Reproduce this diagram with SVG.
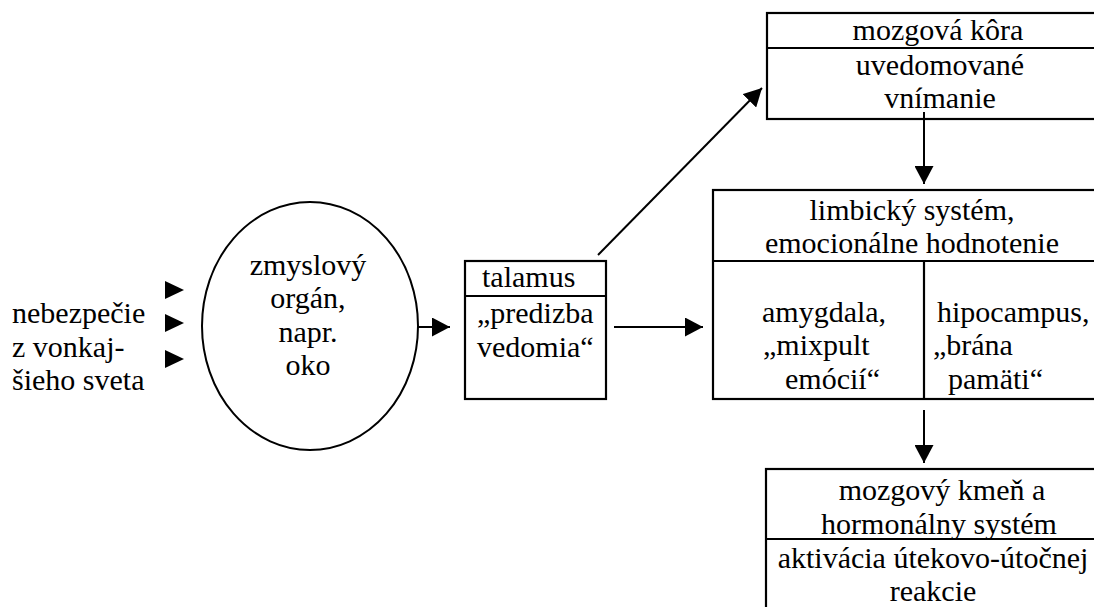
<svg xmlns="http://www.w3.org/2000/svg" width="1094" height="607" viewBox="0 0 1094 607">
<style>
text{font-family:"Liberation Serif","Times New Roman",serif;font-size:30px;fill:#000}
.m{text-anchor:middle}
.box{fill:#fff;stroke:#000;stroke-width:2.2}
.div{stroke:#000;stroke-width:2.2}
.con{stroke:#000;stroke-width:2;fill:none}
.tri{fill:#000}
</style>
<defs>
<marker id="ah" markerUnits="userSpaceOnUse" markerWidth="19" markerHeight="19" refX="18" refY="9.5" orient="auto">
<path d="M0,0 L18,9.5 L0,19 z" fill="#000"/>
</marker>
</defs>
<rect width="1094" height="607" fill="#fff"/>

<g id="input">
<text x="12" y="323">nebezpečie</text>
<text x="12" y="357">z vonkaj-</text>
<text x="12" y="390">šieho sveta</text>
<polygon class="tri" points="165,281 184,290 165,299"/>
<polygon class="tri" points="165,314 184,323 165,332"/>
<polygon class="tri" points="165,350 184,359 165,368"/>
</g>

<g id="organ">
<ellipse cx="310" cy="326" rx="108" ry="124" fill="#fff" stroke="#000" stroke-width="2"/>
<text class="m" x="308" y="275">zmyslový</text>
<text class="m" x="308" y="308">orgán,</text>
<text class="m" x="308" y="342">napr.</text>
<text class="m" x="308" y="375">oko</text>
</g>

<g id="talamus">
<rect class="box" x="465" y="261" width="141" height="138"/>
<line class="div" x1="465" y1="296" x2="606" y2="296"/>
<text x="482" y="287">talamus</text>
<text x="477" y="323">„predizba</text>
<text x="477" y="357">vedomia“</text>
</g>

<g id="kora">
<rect class="box" x="767" y="13" width="400" height="106"/>
<line class="div" x1="767" y1="48" x2="1100" y2="48"/>
<text class="m" x="938" y="40">mozgová kôra</text>
<text class="m" x="940" y="75">uvedomované</text>
<text class="m" x="940" y="108">vnímanie</text>
</g>

<g id="limbic">
<rect class="box" x="713" y="190" width="420" height="209"/>
<line class="div" x1="713" y1="261" x2="1100" y2="261"/>
<line class="div" x1="924" y1="261" x2="924" y2="399"/>
<text class="m" x="912" y="220">limbický systém,</text>
<text class="m" x="912" y="253">emocionálne hodnotenie</text>
<text x="762" y="322">amygdala,</text>
<text x="763" y="355">„mixpult</text>
<text x="785" y="389">emócií“</text>
<text x="937" y="322">hipocampus,</text>
<text x="933" y="355">„brána</text>
<text x="948" y="389">pamäti“</text>
</g>

<g id="kmen">
<rect class="box" x="766" y="469" width="400" height="200"/>
<line class="div" x1="766" y1="539" x2="1100" y2="539"/>
<text class="m" x="942" y="500">mozgový kmeň a</text>
<text class="m" x="939" y="534">hormonálny systém</text>
<text class="m" x="933" y="568">aktivácia útekovo-útočnej</text>
<text class="m" x="933" y="601">reakcie</text>
</g>

<g id="connectors">
<line class="con" x1="418" y1="327" x2="450" y2="327" marker-end="url(#ah)"/>
<line class="con" x1="614" y1="327" x2="703" y2="327" marker-end="url(#ah)"/>
<line class="con" x1="598" y1="255" x2="762" y2="88" marker-end="url(#ah)"/>
<line class="con" x1="924" y1="112" x2="924" y2="184" marker-end="url(#ah)"/>
<line class="con" x1="924" y1="410" x2="924" y2="463" marker-end="url(#ah)"/>
</g>
</svg>
